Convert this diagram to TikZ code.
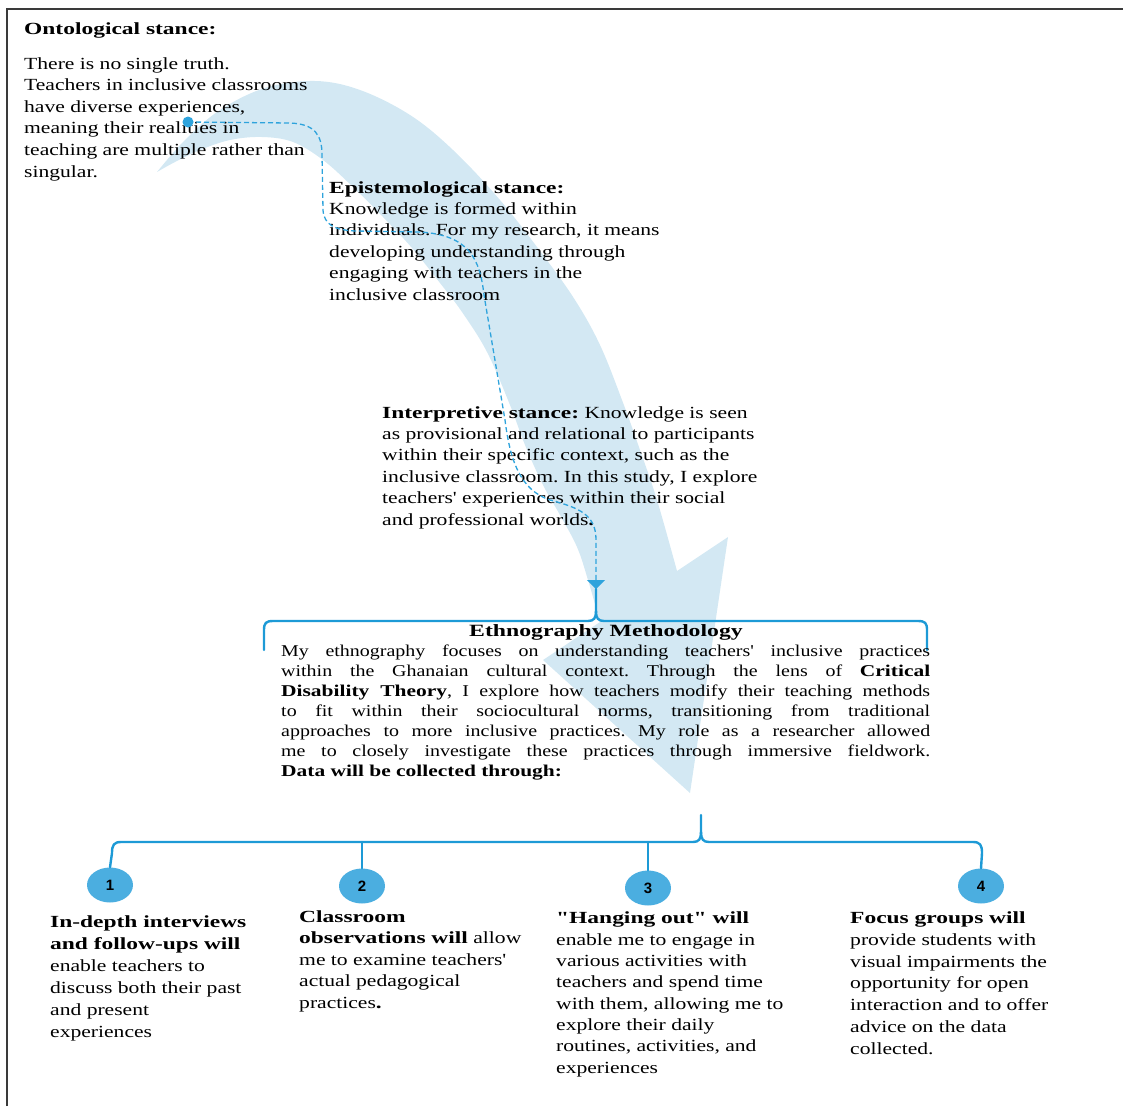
\documentclass[tikz,border=0pt]{standalone}
\usepackage{fontspec}
\newfontfamily\stancefont{Liberation Serif}[UprightFeatures={FakeStretch=1.27},BoldFeatures={FakeStretch=1.38}]
\newfontfamily\methfont{Liberation Serif}[UprightFeatures={FakeStretch=1.21},BoldFeatures={FakeStretch=1.30}]
\newfontfamily\numfont{Liberation Sans}
\usetikzlibrary{arrows.meta, shapes.geometric}

\definecolor{bandblue}{HTML}{D3E8F3}
\definecolor{linkblue}{HTML}{2EA3DC}
\definecolor{bracketblue}{HTML}{1D9AD6}
\definecolor{dotblue}{HTML}{4BAEE0}
\definecolor{framegray}{HTML}{3A3A3A}

% multi-line text nodes are placed by the baseline of their last line
\tikzset{
  bodytext/.style={anchor=base west, inner sep=0pt, align=left,
    font=\frenchspacing\stancefont\fontsize{17}{#1}\selectfont},
  bodytext/.default=21.6,
  methtext/.style={anchor=base west, inner sep=0pt, align=left,
    font=\frenchspacing\methfont\fontsize{16.5}{20}\selectfont},
  bracketline/.style={draw=bracketblue, line width=2.4pt, line cap=round, line join=round},
  linkline/.style={draw=linkblue, line width=1.3pt, dash pattern=on 5pt off 3pt},
  numdot/.style={ellipse, fill=dotblue, minimum width=46pt, minimum height=35pt,
    inner sep=0pt, font=\numfont\bfseries\fontsize{15}{15}\selectfont},
}

\begin{document}
\begin{tikzpicture}[x=1pt, y=-1pt]
\useasboundingbox (0,0) rectangle (1123,1106);

% page frame
\draw[framegray, line width=2pt] (7,1106) -- (7,9) -- (1123,9);

% broad sweeping arrow behind the stances
\fill[bandblue]
  plot[smooth, tension=0.6] coordinates {(157,172) (185,140) (220,110) (265,88) (315,81)
     (360,90) (410,115) (453,150) (500,200) (543,255) (575,300) (600,345) (622,400)
     (640,450) (657,500) (677,571)}
  -- (728,537) -- (690,793) -- (543,660)
  -- plot[smooth, tension=0.6] coordinates {(600,622) (588,580) (577,547) (560,515)
     (543,485) (525,445) (510,405) (487,352) (462,312) (440,283) (412,248) (383,217)
     (353,187) (323,160) (293,142) (262,137) (230,140) (200,150) (175,162) (157,172)}
  -- cycle;

% stance texts
\node[bodytext] (onto-title) at (24,34) {\textbf{Ontological stance:}};
\node[bodytext] (onto) at (24,177) {There is no single truth.\\
Teachers in inclusive classrooms\\
have diverse experiences,\\
meaning their realities in\\
teaching are multiple rather than\\
singular.};

\node[bodytext=21.4] (episto) at (329,300) {\textbf{Epistemological stance:}\\
Knowledge is formed within\\
individuals. For my research, it means\\
developing understanding through\\
engaging with teachers in the\\
inclusive classroom};

\node[bodytext=21.4] (interp) at (382,525) {\textbf{Interpretive stance:} Knowledge is seen\\
as provisional and relational to participants\\
within their specific context, such as the\\
inclusive classroom. In this study, I explore\\
teachers' experiences within their social\\
and professional worlds\textbf{.}};

% dashed link from the ontological stance down to the methodology
\fill[linkblue] (188,122) circle (5.5pt) coordinate (start);
\coordinate (ubtip) at (596,589);
\draw[linkline, -{Triangle[width=18pt, length=9pt]}] (start)
  -- (290,123) .. controls (315,124) and (322,135) .. (322,155)
  -- (323,210) .. controls (324,225) and (335,230) .. (355,231)
  -- (420,232) .. controls (470,235) and (480,260) .. (484,295)
  -- (505,420) .. controls (510,460) and (520,490) .. (550,500)
  .. controls (580,508) and (596,515) .. (596,540) -- (ubtip);

% upper bracket
\draw[bracketline] (264,650) -- (264,630) .. controls (264,623) and (266,621) .. (273,621)
  -- (588,621) .. controls (594,621) and (596,618) .. (596,611) -- (ubtip);
\draw[bracketline] (596,611) .. controls (596,618) and (598,621) .. (604,621)
  -- (918,621) .. controls (925,621) and (927,623) .. (927,630) -- (927,650);

% methodology
\node[anchor=base, inner sep=0pt, font=\stancefont\fontsize{17.2}{20}\selectfont]
  (meth-title) at (606,636) {\textbf{Ethnography Methodology}};
\node[methtext] (meth) at (281,776) {%
\makebox[649pt][s]{My ethnography focuses on understanding teachers' inclusive practices}\\
\makebox[649pt][s]{within the Ghanaian cultural context. Through the lens of \textbf{Critical}}\\
\makebox[649pt][s]{\textbf{Disability Theory}, I explore how teachers modify their teaching methods}\\
\makebox[649pt][s]{to fit within their sociocultural norms, transitioning from traditional}\\
\makebox[649pt][s]{approaches to more inclusive practices. My role as a researcher allowed}\\
\makebox[649pt][s]{me to closely investigate these practices through immersive fieldwork.}\\
\textbf{Data will be collected through:}};

% numbered data-collection methods
\node[numdot] (c1) at (110,885) {1};
\node[numdot] (c2) at (362,886) {2};
\node[numdot] (c3) at (648,888) {3};
\node[numdot] (c4) at (981,886) {4};

% lower bracket
\coordinate (lbtip) at (701,815);
\draw[bracketline] (c1.north) -- (112,853) .. controls (112,845) and (114,842) .. (121,842)
  -- (693,842) .. controls (699,842) and (701,839) .. (701,832) -- (lbtip);
\draw[bracketline] (701,832) .. controls (701,839) and (703,842) .. (709,842)
  -- (973,842) .. controls (980,842) and (982,845) .. (982,853) -- (c4.north);
\draw[bracketline] (c2.north) -- (c2.north |- 0,842);
\draw[bracketline] (c3.north) -- (c3.north |- 0,842);

\node[bodytext=22] (m1) at (50,1037) {\textbf{In-depth interviews}\\
\textbf{and follow-ups will}\\
enable teachers to\\
discuss both their past\\
and present\\
experiences};

\node[bodytext=21.5] (m2) at (299,1008) {\textbf{Classroom}\\
\textbf{observations will} allow\\
me to examine teachers'\\
actual pedagogical\\
practices\textbf{.}};

\node[bodytext=21.3] (m3) at (556,1073) {\textbf{"Hanging out" will}\\
enable me to engage in\\
various activities with\\
teachers and spend time\\
with them, allowing me to\\
explore their daily\\
routines, activities, and\\
experiences};

\node[bodytext=21.7] (m4) at (850,1054) {\textbf{Focus groups will}\\
provide students with\\
visual impairments the\\
opportunity for open\\
interaction and to offer\\
advice on the data\\
collected.};
\end{tikzpicture}
\end{document}
